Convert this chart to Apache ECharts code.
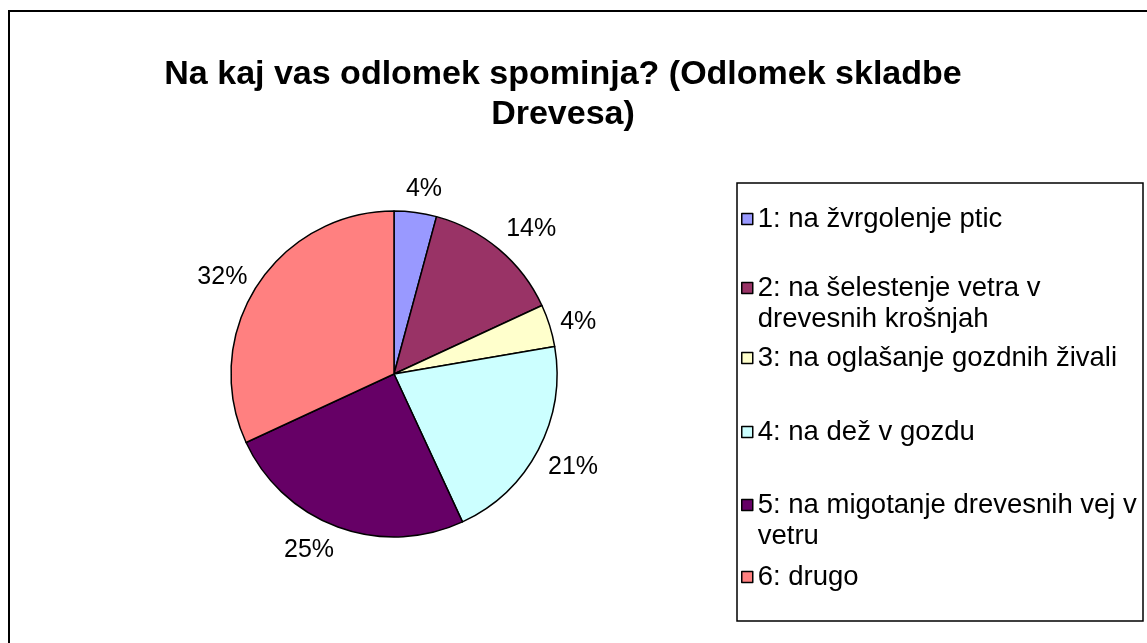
<!DOCTYPE html>
<html>
<head>
<meta charset="utf-8">
<title>Na kaj vas odlomek spominja?</title>
<script src="https://cdn.jsdelivr.net/npm/echarts@6/dist/echarts.min.js"></script>
<style>
  html, body { margin: 0; padding: 0; background: #fff; }
  #chart { width: 1147px; height: 643px; }
</style>
</head>
<body>
<div id="chart"></div>
<script>
// deleži odgovorov (v %), odčitani s slike
var categories = [
  '1: na žvrgolenje ptic',
  '2: na šelestenje vetra v drevesnih krošnjah',
  '3: na oglašanje gozdnih živali',
  '4: na dež v gozdu',
  '5: na migotanje drevesnih vej v vetru',
  '6: drugo'
];
var shares = [4.2, 13.9, 4.2, 20.8, 25.0, 31.9];
// prikaz v legendi (prelom vrstice kot na sliki)
var legendLabels = [
  '1: na žvrgolenje ptic',
  '2: na šelestenje vetra v\ndrevesnih krošnjah',
  '3: na oglašanje gozdnih živali',
  '4: na dež v gozdu',
  '5: na migotanje drevesnih vej v\nvetru',
  '6: drugo'
];
var colors = ['#9999FF', '#993366', '#FFFFCC', '#CCFFFF', '#660066', '#FF8080'];
// sredina ikone posamezne postavke legende
var legendRows = [219, 288, 358, 432, 505, 577];

var font = '"Liberation Sans", Arial, sans-serif';
var lineH = 31;
var chart = echarts.init(document.getElementById('chart'));

var pieData = categories.map(function (name, i) {
  return { name: name, value: shares[i], itemStyle: { color: colors[i] } };
});

// ena legenda na postavko, da so razmiki kot v izvirniku
var legends = categories.map(function (name, i) {
  var twoLines = legendLabels[i].indexOf('\n') >= 0;
  // prazna vrstica zgoraj, da je ikona ob prvi vrstici
  var text = twoLines ? '\n' + legendLabels[i] : legendLabels[i];
  return {
    data: [name],
    orient: 'vertical',
    left: 741,
    top: legendRows[i] - (twoLines ? lineH * 1.5 : lineH / 2),
    padding: 0,
    itemWidth: 11,
    itemHeight: 11,
    icon: 'rect',
    selectedMode: false,
    itemStyle: { borderColor: '#000', borderWidth: 1.5 },
    formatter: function () { return text; },
    textStyle: {
      fontFamily: font,
      fontSize: 27.5,
      lineHeight: lineH,
      color: '#000'
    }
  };
});

// kje na robu oznake se ta dotika kroga (Excel ima zgornje oznake nižje)
function anchorX(u) {
  return Math.max(-1, Math.min(1, u * 3));
}
function anchorY(u) {
  if (u >= 0) return Math.min(1, u * 2.5);
  var t = Math.max(0, -u - 0.3) / 0.47;
  return -Math.min(1, t * t);
}

var option = {
  animation: false,
  backgroundColor: '#fff',
  title: {
    text: 'Na kaj vas odlomek spominja? (Odlomek skladbe\nDrevesa)',
    left: 558,
    top: 50,
    textAlign: 'center',
    textStyle: {
      fontFamily: font,
      fontSize: 34,
      fontWeight: 'bold',
      lineHeight: 40,
      color: '#000'
    }
  },
  legend: legends,
  graphic: [
    {
      type: 'rect',
      shape: { x: 9, y: 11, width: 1200, height: 700 },
      style: { fill: 'none', stroke: '#000', lineWidth: 2 },
      silent: true
    },
    {
      type: 'rect',
      shape: { x: 737, y: 183, width: 406, height: 438 },
      style: { fill: 'none', stroke: '#000', lineWidth: 1.5 },
      silent: true,
      z: -1
    }
  ],
  series: [
    {
      type: 'pie',
      center: [394, 374],
      radius: 163,
      startAngle: 90,
      clockwise: true,
      avoidLabelOverlap: false,
      percentPrecision: 0,
      itemStyle: { borderColor: '#000', borderWidth: 1.5 },
      emphasis: { disabled: true },
      label: {
        show: true,
        position: 'outside',
        formatter: '{d}%',
        fontFamily: font,
        fontSize: 25,
        color: '#000'
      },
      labelLine: {
        show: true,
        length: 10,
        length2: 0,
        lineStyle: { opacity: 0 }
      },
      // oznako postavimo izven izseka, v smeri sredine izseka
      labelLayout: function (params) {
        var pts = params.labelLinePoints;
        if (!pts) return {};
        var ux = pts[1][0] - pts[0][0];
        var uy = pts[1][1] - pts[0][1];
        var len = Math.sqrt(ux * ux + uy * uy) || 1;
        ux /= len;
        uy /= len;
        var w = params.labelRect.width;
        var h = params.labelRect.height;
        var gap = 11;
        return {
          x: pts[0][0] + ux * gap + anchorX(ux) * w / 2,
          y: pts[0][1] + uy * gap + anchorY(uy) * h / 2,
          align: 'center',
          verticalAlign: 'middle'
        };
      },
      data: pieData
    }
  ]
};

chart.setOption(option);
</script>
</body>
</html>
